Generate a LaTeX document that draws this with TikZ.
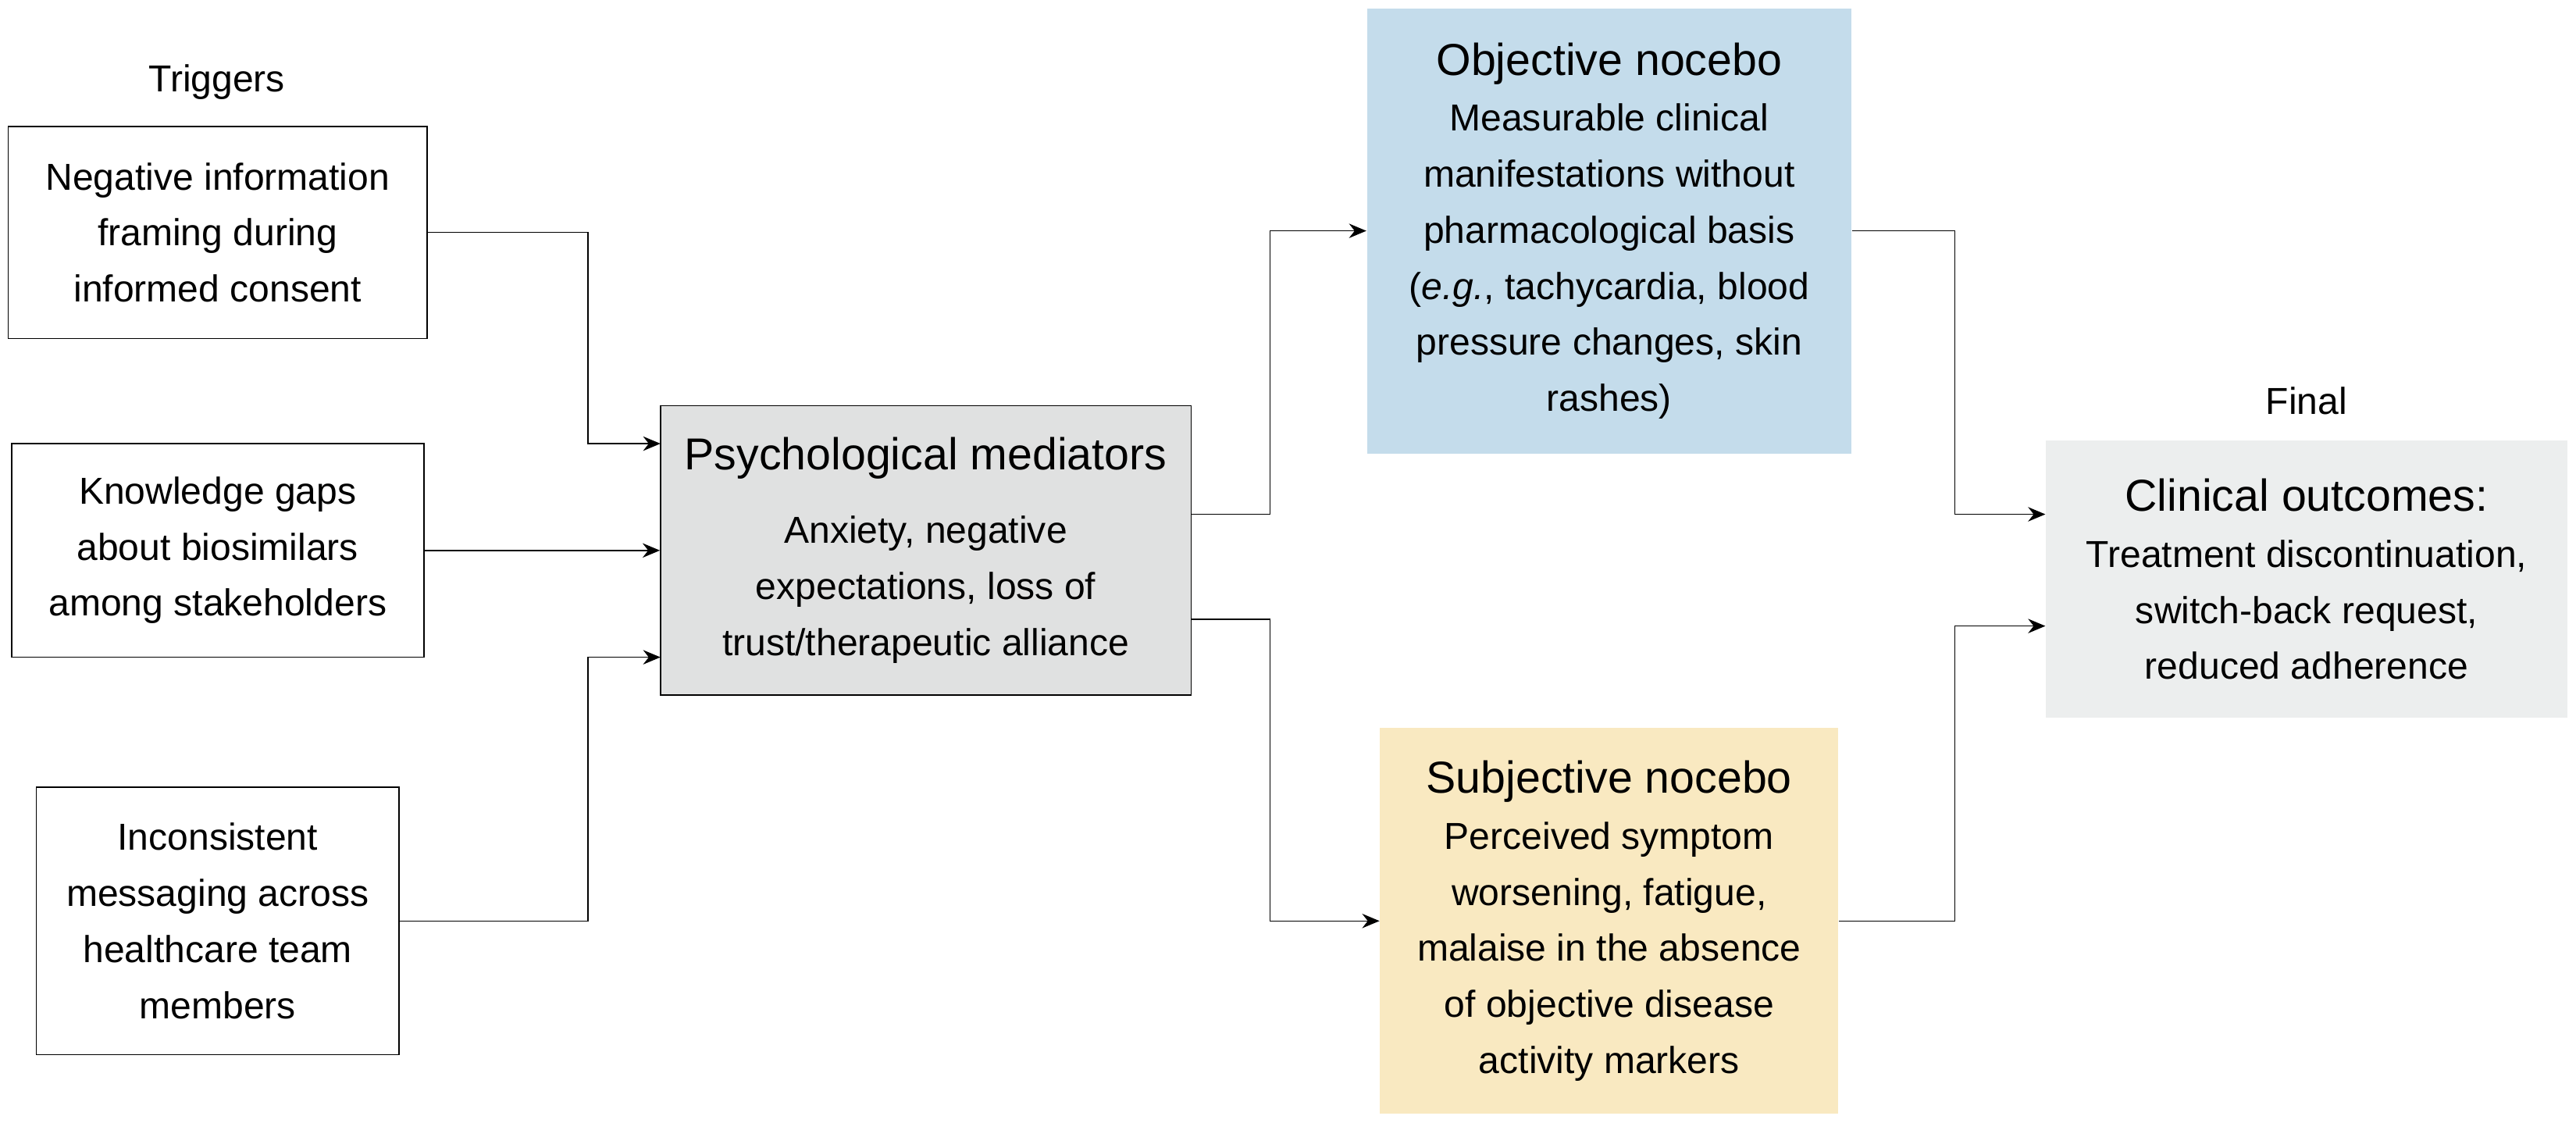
\documentclass[tikz,border=0pt]{standalone}
\usepackage{fontspec}
\setmainfont{Liberation Sans}
\usetikzlibrary{arrows.meta}
\definecolor{psychgray}{HTML}{E0E1E1}
\definecolor{objblue}{HTML}{C4DCEB}
\definecolor{subyellow}{HTML}{F9E9C1}
\definecolor{finalgray}{HTML}{ECEEEE}
\tikzset{
  box/.style={draw, thin, align=center, inner sep=0pt, font=\fontsize{13}{19.4}\selectfont},
  arr/.style={-{Stealth[length=6pt,width=5pt]}, thin},
  ttl/.style={font=\fontsize{15.5}{19}\selectfont}
}
\begin{document}
\begin{tikzpicture}[x=0.02cm,y=-0.02cm]
        \useasboundingbox (0,0) rectangle (1568,683);
        % triggers
        \node[font=\fontsize{13}{16}\selectfont] (trig) at (132,50) {Triggers};
        \node[box, minimum width=5.1cm, minimum height=2.58cm] (t1) at (132.5,141.5) {Negative information\\framing during\\informed consent};
        \node[box, minimum width=5.02cm, minimum height=2.6cm] (t2) at (132.5,335) {Knowledge gaps\\about biosimilars\\among stakeholders};
        \node[box, minimum width=4.42cm, minimum height=3.26cm] (t3) at (132.5,560.5) {Inconsistent\\messaging across\\healthcare team\\members};

        % mediators
        \node[box, fill=psychgray, minimum width=6.46cm, minimum height=3.52cm] (psych) at (563.5,335)
          {{\fontsize{15.5}{19}\selectfont Psychological mediators}\\[6pt]Anxiety, negative\\expectations, loss of\\trust/therapeutic alliance};

        % nocebo
        \node[box, draw=none, fill=objblue, minimum width=5.9cm, minimum height=5.42cm] (obj) at (979.5,140.5)
          {{\fontsize{15.5}{19}\selectfont Objective nocebo}\\Measurable clinical\\manifestations without\\pharmacological basis\\(\textit{e.g.}, tachycardia, blood\\pressure changes, skin\\rashes)};
        \node[box, draw=none, fill=subyellow, minimum width=5.58cm, minimum height=4.7cm] (sub) at (979.5,560.5)
          {{\fontsize{15.5}{19}\selectfont Subjective nocebo}\\Perceived symptom\\worsening, fatigue,\\malaise in the absence\\of objective disease\\activity markers};

        % final
        \node[font=\fontsize{13}{16}\selectfont] (fin) at (1404,244) {Final};
        \node[box, draw=none, fill=finalgray, minimum width=6.36cm, minimum height=3.38cm] (out) at (1404,352.5)
          {{\fontsize{15.5}{19}\selectfont Clinical outcomes:}\\Treatment discontinuation,\\switch-back request,\\reduced adherence};

        % ports
        \coordinate (p1) at (402,270);
        \coordinate (p3) at (402,400);
        \coordinate (q1) at (725,313);
        \coordinate (q2) at (725,377);
        \coordinate (o1) at (1245,313);
        \coordinate (o2) at (1245,381);

        \draw[arr] (t1.east) -| (358,200) |- (p1);
        \draw[arr] (t2.east) -- (psych.west);
        \draw[arr] (t3.east) -| (358,480) |- (p3);
        \draw[arr] (q1) -| (773,200) |- (obj.west);
        \draw[arr] (q2) -| (773,470) |- (sub.west);
        \draw[arr] (obj.east) -| (1190,200) |- (o1);
        \draw[arr] (sub.east) -| (1190,470) |- (o2);
\end{tikzpicture}
\end{document}
